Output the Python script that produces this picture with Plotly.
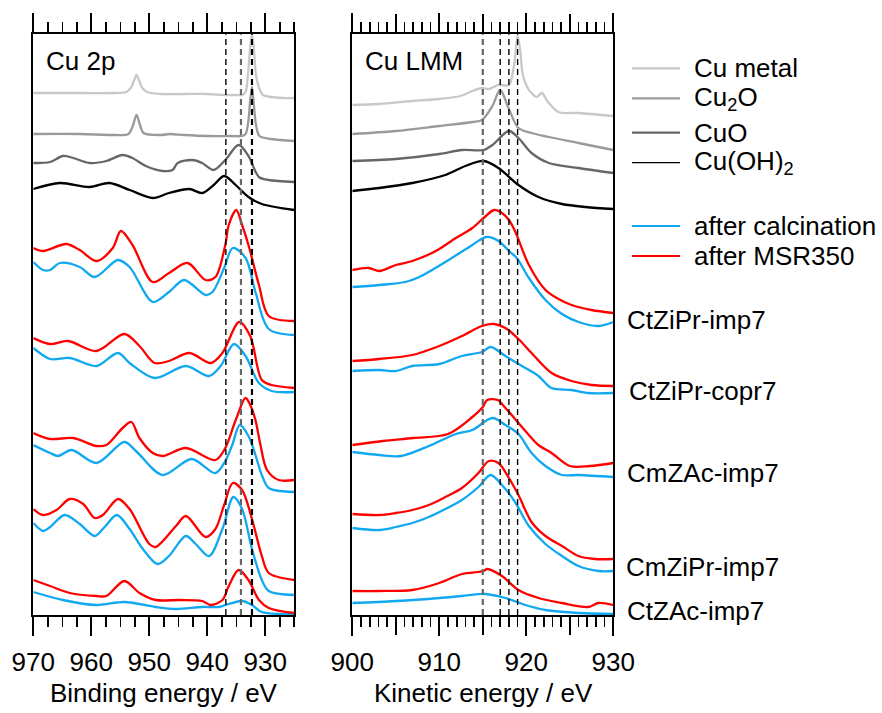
import plotly.graph_objects as go

# ---------------- Cu 2p panel (binding energy, eV ; intensity a.u.) ----------------
metal_2p_E = [970, 962, 956, 954, 953.2, 952.6, 952.2, 951.8, 951.2, 950.4, 948, 944, 940, 937, 935, 934, 933.4, 933.0, 932.6, 932.3, 932.0, 931.6, 931.0, 930.4, 929, 927, 925]
metal_2p_I = [522, 522, 522, 523, 527, 535, 540, 535, 527, 523, 521, 521, 521, 520, 520, 520, 523, 540, 568, 580, 568, 540, 526, 520, 518, 517, 517]

cu2o_2p_E = [970, 962, 956, 953.6, 952.8, 952.2, 951.6, 951, 948, 946.5, 944, 940, 936, 934, 933.4, 932.9, 932.6, 932.3, 932.0, 931.6, 931.0, 929, 925]
cu2o_2p_I = [481, 481, 480, 481, 490, 500, 490, 482, 480, 481, 480, 479, 479, 479, 481, 495, 515, 528, 512, 490, 479, 476, 474]

cuo_2p_E = [970, 967.1, 964.9, 963.1, 960.3, 957.4, 954.6, 952.9, 950.6, 947.7, 946, 945.1, 942.6, 940.9, 938.9, 936.9, 934.6, 932.9, 931.1, 929.4, 925]
cuo_2p_I = [452, 453, 459, 457, 452, 454, 460, 457, 449, 444, 445, 452, 455, 452, 445, 455, 470, 459, 438, 435, 433]

oh_2p_E = [970, 965.4, 960.3, 956.9, 953.4, 949.4, 946.6, 943.1, 940.9, 938.9, 937.1, 935.1, 932.9, 930.6, 925]
oh_2p_I = [426, 432, 428, 432, 425, 417, 422, 426, 422, 430, 439, 430, 418, 411, 405]

# samples: after calcination (blue) and after MSR350 (red)
s1_red_2p_E = [970, 968.3, 964.3, 962, 959.1, 956.3, 954.9, 952.9, 949.4, 946.6, 943.4, 940.3, 938.6, 936.9, 936.3, 935, 934, 932.9, 931.1, 929.4, 925]
s1_red_2p_I = [367, 364, 371, 365, 354, 367, 384, 370, 333, 342, 352, 335, 338, 370, 390, 405, 390, 370, 330, 299, 294]
s1_blue_2p_E = [970, 968.3, 967.1, 965.4, 962, 959.4, 955.4, 953.4, 949.4, 946.6, 944, 940.3, 939.1, 937.1, 935.6, 933.4, 931.7, 929.4, 925]
s1_blue_2p_I = [353, 345, 345, 352, 348, 338, 355, 348, 313, 323, 335, 320, 323, 347, 367, 357, 323, 286, 280]

s2_red_2p_E = [970, 967.1, 964, 959.1, 954.3, 951.7, 949.1, 946.6, 943.1, 939.4, 937.4, 934.5, 932.6, 930.6, 928.9, 925]
s2_red_2p_I = [277, 271, 274, 264, 281, 269, 252, 254, 262, 252, 262, 293, 279, 235, 230, 227]
s2_blue_2p_E = [970, 967.1, 963.7, 959.1, 955.4, 953.4, 949.1, 943.7, 939.7, 937.7, 935.4, 933.4, 931.1, 928.9, 925]
s2_blue_2p_I = [267, 256, 257, 249, 262, 252, 237, 249, 239, 249, 271, 259, 232, 224, 223]

s3_red_2p_E = [970, 967.1, 963.1, 959.1, 957.4, 954.6, 953.1, 951.7, 949.4, 947.7, 943.7, 938.6, 936.9, 935.1, 933.4, 932.6, 931.7, 930.9, 929.7, 927.7, 925]
s3_red_2p_I = [182, 176, 177, 169, 170, 187, 193, 177, 162, 159, 167, 155, 167, 195, 217, 210, 195, 172, 145, 135, 135]
s3_blue_2p_E = [970, 967.1, 965.7, 963.4, 959.1, 954.3, 952.3, 947.7, 942.7, 938.6, 936.9, 935.7, 934.4, 932.9, 931.7, 930.6, 929.4, 925]
s3_blue_2p_I = [170, 162, 159, 165, 152, 173, 164, 140, 156, 142, 154, 170, 190, 179, 160, 140, 127, 123]

s4_red_2p_E = [970, 968.3, 966, 963.7, 961.4, 959.4, 958, 955.4, 953.4, 950, 948.9, 945.4, 943.7, 940.3, 938.6, 937.1, 935.6, 934, 932.3, 930.6, 929.4, 925]
s4_red_2p_I = [106, 100, 105, 116, 111, 97, 100, 116, 106, 71, 68, 89, 99, 78, 86, 110, 132, 125, 96, 59, 42, 35]
s4_blue_2p_E = [970, 968.3, 967.1, 964.6, 962, 959.4, 957.7, 955.6, 953.4, 951.1, 948.6, 946.6, 943.7, 942, 939.7, 937.4, 935.5, 934, 932.3, 930.6, 929.4, 925]
s4_blue_2p_I = [92, 84, 88, 100, 91, 79, 88, 100, 86, 66, 51, 59, 79, 71, 59, 86, 118, 106, 66, 35, 24, 20]

s5_red_2p_E = [970, 967.1, 963.7, 959.1, 957.4, 954.3, 951.7, 948.9, 944.9, 940.9, 939.4, 937.4, 936.3, 934.6, 932.9, 931.1, 929.4, 925]
s5_red_2p_I = [35, 29, 22, 19, 19, 34, 22, 15, 15, 14, 10, 15, 29, 45, 35, 15, 7, 2]
s5_blue_2p_E = [970, 964.9, 959.1, 954.3, 948.9, 945.4, 940.9, 938, 936.3, 934, 932.3, 930.6, 925]
s5_blue_2p_I = [23, 15, 10, 13, 8, 6, 8, 8, 11, 14, 10, 3, 1]

# ---------------- Cu LMM panel (kinetic energy, eV ; intensity a.u.) ----------------
metal_lmm_E = [900, 903.1, 906.9, 910.0, 912.4, 913.8, 914.9, 915.7, 916.8, 918.0, 918.5, 918.8, 919.0, 919.3, 919.6, 920.1, 920.6, 921.2, 921.8, 922.4, 923.7, 926.0, 930]
metal_lmm_I = [510, 511, 514, 516, 519, 524, 527, 526, 530, 530, 545, 565, 579, 565, 540, 528, 522, 518, 522, 514, 503, 502, 499]

cu2o_lmm_E = [900, 905.0, 910.0, 913.8, 914.9, 916.1, 917.0, 918.0, 919.1, 920.6, 922.6, 926.0, 930]
cu2o_lmm_I = [481, 484, 489, 493, 495, 509, 525, 506, 487, 482, 478, 472, 465]

cuo_lmm_E = [900, 905.0, 910.0, 912.6, 915.1, 916.1, 918.0, 919.1, 920.6, 922.6, 926.0, 930]
cuo_lmm_I = [454, 456, 461, 465, 465, 470, 484, 477, 462, 452, 447, 442]

oh_lmm_E = [900, 903.1, 906.9, 910.7, 913.0, 915.1, 916.8, 919.1, 921.4, 924.1, 926.8, 930]
oh_lmm_I = [424, 427, 432, 440, 449, 454, 447, 430, 418, 411, 408, 406]

s1_red_lmm_E = [900, 901.9, 903.1, 905.0, 906.9, 909.6, 911.9, 913.8, 915.1, 916.3, 917.2, 918.0, 918.7, 920.3, 922.2, 923.7, 925.2, 927.5, 930]
s1_red_lmm_I = [345, 347, 344, 350, 354, 364, 377, 387, 397, 405, 402, 395, 384, 350, 325, 316, 310, 305, 302]
s1_blue_lmm_E = [900, 903.1, 906.1, 907.7, 910.7, 913.8, 915.4, 916.8, 918.0, 918.9, 920.3, 922.2, 924.1, 926.0, 928.3, 930]
s1_blue_lmm_I = [328, 330, 333, 338, 353, 370, 378, 374, 364, 357, 337, 315, 301, 293, 289, 293]

s2_red_lmm_E = [900, 903.1, 906.9, 910.0, 912.6, 914.9, 916.3, 917.6, 919.1, 920.6, 922.9, 925.2, 927.5, 930]
s2_red_lmm_I = [254, 256, 260, 269, 279, 289, 291, 287, 276, 262, 242, 234, 230, 229]
s2_blue_lmm_E = [900, 903.1, 905.0, 906.9, 910.0, 912.6, 914.9, 915.9, 917.6, 919.5, 921.4, 922.9, 925.2, 927.1, 930]
s2_blue_lmm_I = [244, 245, 244, 249, 251, 259, 263, 268, 259, 249, 239, 227, 225, 222, 222]

s3_red_lmm_E = [900, 903.5, 907, 911, 913.8, 915, 915.5, 916.7, 917.5, 919.3, 920, 921.4, 922.9, 925, 927.3, 930]
s3_red_lmm_I = [170, 174, 177, 181, 198, 208, 215, 215, 208, 190, 183, 170, 162, 149, 149, 152]
s3_blue_lmm_E = [900, 903.1, 905.6, 908.8, 911.9, 913.8, 916.1, 917.6, 919.1, 920.6, 922.2, 924.1, 926, 930]
s3_blue_lmm_I = [163, 160, 159, 169, 181, 185, 197, 190, 181, 162, 149, 140, 140, 138]

s4_red_lmm_E = [900, 903.1, 905.0, 906.9, 908.8, 910.7, 912.6, 914.5, 915.7, 916.8, 918.0, 919.1, 920.6, 922.2, 924.1, 926.0, 927.9, 930]
s4_red_lmm_I = [101, 100, 102, 105, 110, 118, 127, 142, 154, 152, 137, 120, 93, 79, 69, 59, 56, 56]
s4_blue_lmm_E = [900, 903.1, 905.0, 906.9, 908.8, 910.7, 912.6, 914.5, 915.9, 917.2, 918.7, 920.3, 922.2, 924.1, 926.0, 928.3, 930]
s4_blue_lmm_I = [87, 85, 88, 92, 98, 106, 115, 128, 140, 130, 113, 89, 71, 59, 49, 44, 44]

s5_red_lmm_E = [900, 903.1, 906.9, 910.0, 912.6, 915.1, 915.5, 917.2, 919.1, 921.4, 924.1, 927.1, 928.3, 930]
s5_red_lmm_I = [24, 24, 25, 32, 41, 44, 46, 39, 25, 17, 12, 8, 12, 10]
s5_blue_lmm_E = [900, 905.0, 910.0, 912.6, 915.3, 917.6, 919.9, 922.2, 926.0, 930]
s5_blue_lmm_I = [12, 14, 17, 19, 21, 17, 10, 5, 2, 1]

ref_dash_2p = [936.8, 934.2, 932.3]
ref_dash_lmm = [915.0, 917.0, 918.0, 919.0]

sample_names = ["CtZiPr-imp7", "CtZiPr-copr7", "CmZAc-imp7", "CmZiPr-imp7", "CtZAc-imp7"]
ref_names = ["Cu metal", "Cu<sub>2</sub>O", "CuO", "Cu(OH)<sub>2</sub>"]
cond_names = ["after calcination", "after MSR350"]

x2p_ticks = [970, 960, 950, 940, 930]
xlmm_ticks = [900, 910, 920, 930]
xlmm_mid_ticks = [905, 915, 925]

# ---------------- styling ----------------
W, H = 882, 713
FONT = "Liberation Sans, Arial, sans-serif"
FS = 26
C_METAL, C_CU2O, C_CUO, C_OH = "#c8c8c8", "#9a9a9a", "#666666", "#000000"
C_BLUE, C_RED = "#10a8f0", "#ff0000"
LW = 2.3

def px(x):
    return x / W

def py(y):
    return 1 - y / H

fig = go.Figure()

def add(E, I, color, axis, width=LW):
    xa, ya = ("x", "y") if axis == 1 else ("x2", "y2")
    fig.add_trace(go.Scatter(x=E, y=I, mode="lines", xaxis=xa, yaxis=ya,
                             line=dict(color=color, width=width, shape="spline", smoothing=0.9),
                             showlegend=False, hoverinfo="skip"))

refs_2p = [(metal_2p_E, metal_2p_I, C_METAL), (cu2o_2p_E, cu2o_2p_I, C_CU2O),
           (cuo_2p_E, cuo_2p_I, C_CUO), (oh_2p_E, oh_2p_I, C_OH)]
refs_lmm = [(metal_lmm_E, metal_lmm_I, C_METAL), (cu2o_lmm_E, cu2o_lmm_I, C_CU2O),
            (cuo_lmm_E, cuo_lmm_I, C_CUO), (oh_lmm_E, oh_lmm_I, C_OH)]
for E, I, c in refs_2p:
    add(E, I, c, 1)
for E, I, c in refs_lmm:
    add(E, I, c, 2)

samples_2p = [(s1_blue_2p_E, s1_blue_2p_I, s1_red_2p_E, s1_red_2p_I),
              (s2_blue_2p_E, s2_blue_2p_I, s2_red_2p_E, s2_red_2p_I),
              (s3_blue_2p_E, s3_blue_2p_I, s3_red_2p_E, s3_red_2p_I),
              (s4_blue_2p_E, s4_blue_2p_I, s4_red_2p_E, s4_red_2p_I),
              (s5_blue_2p_E, s5_blue_2p_I, s5_red_2p_E, s5_red_2p_I)]
samples_lmm = [(s1_blue_lmm_E, s1_blue_lmm_I, s1_red_lmm_E, s1_red_lmm_I),
               (s2_blue_lmm_E, s2_blue_lmm_I, s2_red_lmm_E, s2_red_lmm_I),
               (s3_blue_lmm_E, s3_blue_lmm_I, s3_red_lmm_E, s3_red_lmm_I),
               (s4_blue_lmm_E, s4_blue_lmm_I, s4_red_lmm_E, s4_red_lmm_I),
               (s5_blue_lmm_E, s5_blue_lmm_I, s5_red_lmm_E, s5_red_lmm_I)]
for bE, bI, rE, rI in samples_2p:
    add(bE, bI, C_BLUE, 1)
    add(rE, rI, C_RED, 1)
for bE, bI, rE, rI in samples_lmm:
    add(bE, bI, C_BLUE, 2)
    add(rE, rI, C_RED, 2)

# empty helper trace so that the mid-tick overlay axis is drawn
fig.add_trace(go.Scatter(x=[], y=[], xaxis="x3", yaxis="y2", showlegend=False, hoverinfo="skip"))

Y_BOT, Y_TOP = 615, 34.3
ydom = [py(Y_BOT), py(Y_TOP)]
yr = [0, Y_BOT - Y_TOP]
dom1 = [px(33.3), px(294.3)]
dom2 = [px(352.3), px(613.3)]

xcommon = dict(mirror="ticks", ticks="outside", ticklen=19, tickwidth=2, tickcolor="black",
               showgrid=False, zeroline=False, fixedrange=True,
               tickfont=dict(family=FONT, size=FS, color="black"), ticklabelstandoff=4)
ycommon = dict(showline=True, linewidth=2, linecolor="black", mirror=True,
               ticks="", showticklabels=False, showgrid=False, zeroline=False, range=yr,
               domain=ydom, fixedrange=True)

fig.update_layout(
    width=W, height=H, margin=dict(l=0, r=0, t=0, b=0, autoexpand=False),
    paper_bgcolor="white", plot_bgcolor="white",
    font=dict(family=FONT, size=FS, color="black"),
    xaxis=dict(domain=dom1, range=[970, 925], tickmode="array",
               tickvals=x2p_ticks, ticktext=[str(v) for v in x2p_ticks],
               showline=True, linewidth=2, linecolor="black",
               minor=dict(dtick=2.5, tick0=925, ticks="outside", ticklen=10, tickwidth=1.6,
                          tickcolor="black", showgrid=False),
               **xcommon),
    xaxis2=dict(domain=dom2, range=[900, 930], tickmode="array",
                tickvals=xlmm_ticks, ticktext=[str(v) for v in xlmm_ticks],
                showline=True, linewidth=2, linecolor="black",
                minor=dict(dtick=1, tick0=900, ticks="outside", ticklen=10, tickwidth=1.6,
                           tickcolor="black", showgrid=False),
                anchor="y2", **xcommon),
    xaxis3=dict(domain=dom2, range=[900, 930], overlaying="x2", anchor="y2", side="bottom",
                tickmode="array", tickvals=xlmm_mid_ticks, showticklabels=False, showline=False,
                **xcommon),
    yaxis=dict(anchor="x", **ycommon),
    yaxis2=dict(anchor="x2", **ycommon),
)

# reference dashed lines
dash_2p_style = [("black", 1.4), (C_CUO, 2.2), ("black", 2.2)]
for xv, (c, w) in zip(ref_dash_2p, dash_2p_style):
    fig.add_shape(type="line", xref="x", yref="y domain", x0=xv, x1=xv, y0=0, y1=1,
                  line=dict(color=c, width=w, dash="6px,4px"))
dash_lmm_style = [(C_CUO, 2.2), ("black", 1.4), ("black", 1.4), ("black", 1.4)]
for xv, (c, w) in zip(ref_dash_lmm, dash_lmm_style):
    fig.add_shape(type="line", xref="x2", yref="y2 domain", x0=xv, x1=xv, y0=0, y1=1,
                  line=dict(color=c, width=w, dash="6px,4px"))

def text(x, y, s, xanchor="left", size=FS):
    fig.add_annotation(x=px(x), y=py(y), xref="paper", yref="paper", text=s, showarrow=False,
                       xanchor=xanchor, yanchor="middle", font=dict(family=FONT, size=size, color="black"))

# panel labels
text(44, 61, "Cu 2p")
text(363, 61, "Cu LMM")

# axis titles
text(163.7, 693, "Binding energy / eV", xanchor="center")
text(483.3, 693, "Kinetic energy / eV", xanchor="center")

# legend
leg_y = [68.3, 98.3, 132.7, 162.7]
leg_col = [C_METAL, C_CU2O, C_CUO, C_OH]
leg_w = [2.2, 2.2, 2.2, 1.2]
for name, yv, c, w in zip(ref_names, leg_y, leg_col, leg_w):
    fig.add_shape(type="line", xref="paper", yref="paper", x0=px(632), x1=px(680), y0=py(yv), y1=py(yv),
                  line=dict(color=c, width=w))
    text(692, yv, name)
for name, yv, c in zip(cond_names, [226, 256], [C_BLUE, C_RED]):
    fig.add_shape(type="line", xref="paper", yref="paper", x0=px(632), x1=px(680), y0=py(yv), y1=py(yv),
                  line=dict(color=c, width=2.2))
    text(692, yv, name)

# sample labels
for name, yv, xv in zip(sample_names, [320, 391, 473, 567, 611], [625, 626.5, 625, 623.5, 625]):
    text(xv, yv, name)

fig.write_html("out.html", config={"displayModeBar": False, "staticPlot": True},
               post_script="document.body.style.margin='0';document.body.style.overflow='hidden';"
                           "document.documentElement.style.overflow='hidden';")
